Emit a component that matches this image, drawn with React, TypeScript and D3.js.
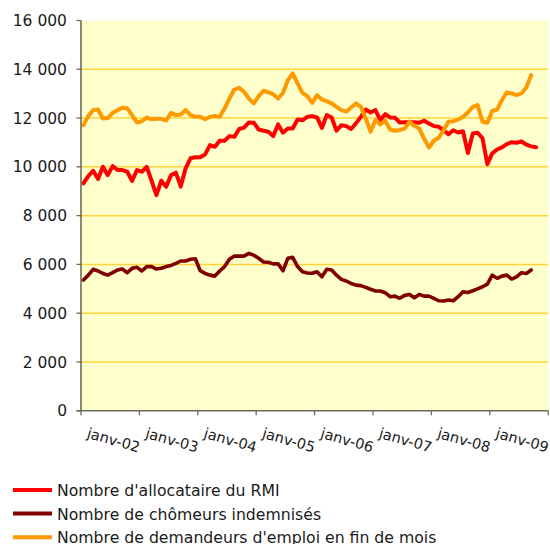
import React from "react";
import * as d3 from "d3";

const monthNames = ["janv", "févr", "mars", "avr", "mai", "juin", "juil", "août", "sept", "oct", "nov", "déc"];
const years = ["02", "03", "04", "05", "06", "07", "08", "09"];
const months: string[] = years.flatMap((y) => monthNames.map((m) => `${m}-${y}`));
const yTicks = [0, 2000, 4000, 6000, 8000, 10000, 12000, 14000, 16000];

const rmi = [
  9320, 9620, 9840, 9500, 10000, 9660, 10030, 9870, 9870, 9800, 9420, 9870,
  9800, 10000, 9430, 8840, 9430, 9190, 9660, 9760, 9190, 9940, 10350, 10390,
  10390, 10510, 10890, 10820, 11070, 11070, 11260, 11230, 11550, 11610, 11820, 11810,
  11530, 11480, 11440, 11260, 11740, 11400, 11570, 11570, 11940, 11910, 12050, 12080,
  12025, 11600, 12120, 12025, 11480, 11710, 11670, 11550, 11780, 12050, 12350, 12230,
  12325, 11915, 12160, 12025, 12010, 11820, 11830, 11830, 11830, 11810, 11890, 11780,
  11670, 11640, 11500, 11340, 11500, 11410, 11460, 10570, 11370, 11400, 11170, 10110,
  10550, 10710, 10800, 10930, 11010, 10990, 11040, 10910, 10840, 10800,
];

const chomeurs = [
  5360, 5560, 5800, 5730, 5630, 5560, 5660, 5770, 5810, 5660, 5840, 5880,
  5730, 5910, 5910, 5810, 5840, 5910, 5960, 6040, 6140, 6140, 6210, 6230,
  5740, 5630, 5560, 5520, 5730, 5910, 6210, 6340, 6340, 6340, 6450, 6380,
  6250, 6100, 6090, 6020, 6020, 5740, 6250, 6290, 5910, 5700, 5650, 5640,
  5700, 5490, 5800, 5770, 5560, 5385, 5320, 5220, 5150, 5130, 5060, 4980,
  4910, 4910, 4840, 4675, 4700, 4610, 4730, 4770, 4630, 4770, 4700, 4700,
  4610, 4510, 4500, 4540, 4510, 4675, 4880, 4850, 4920, 5000, 5085, 5190,
  5560, 5430, 5520, 5560, 5400, 5490, 5660, 5630, 5770,
];

const demandeurs = [
  11710, 12080, 12325, 12350, 11985, 12000, 12215, 12325, 12420, 12400, 12120, 11820,
  11870, 12020, 11950, 11970, 11970, 11900, 12210, 12120, 12150, 12330, 12120, 12050,
  12050, 11950, 12050, 12090, 12050, 12390, 12800, 13170, 13240, 13080, 12800, 12600,
  12900, 13120, 13050, 12980, 12800, 13030, 13550, 13830, 13420, 13030, 12900, 12620,
  12940, 12760, 12690, 12600, 12460, 12325, 12260, 12430, 12600, 12460, 11980, 11440,
  11920, 11740, 11890, 11530, 11480, 11510, 11570, 11850, 11680, 11570, 11160, 10790,
  11070, 11190, 11500, 11850, 11870, 11940, 12050, 12230, 12460, 12530, 11850, 11810,
  12290, 12350, 12740, 13050, 13010, 12940, 13010, 13250, 13760,
];

const series = [
  { name: "Nombre d'allocataire du RMI", values: rmi, color: "#FF0000", width: 4 },
  { name: "Nombre de chômeurs indemnisés", values: chomeurs, color: "#800000", width: 3.6 },
  { name: "Nombre de demandeurs d'emploi en fin de mois", values: demandeurs, color: "#FF9900", width: 4 },
];

const W = 550;
const H = 544;
const left = 81;
const right = 548.2;
const top = 20.5;
const bottom = 410.75;
const font = "'DejaVu Sans', Verdana, sans-serif";

export default function App() {
  const x = d3.scaleBand<string>().domain(months).range([left, right]).padding(0);
  const bw = x.bandwidth();
  const y = d3.scaleLinear().domain([0, 16000]).range([bottom, top]);
  const fmt = (v: number) => d3.format(",")(v).replace(/,/g, " ");

  const line = (vals: number[]) =>
    d3
      .line<number>()
      .x((_, i) => (x(months[i]) as number) + bw / 2)
      .y((v) => y(v))(vals) as string;

  const groupStarts = years.map((_, k) => k * 12);

  return (
    <svg width={W} height={H} style={{ position: "absolute", left: 0, top: 0, background: "#fff" }}>
      <rect x={left} y={top} width={right - left} height={bottom - top} fill="#FFFFCC" />
      {yTicks
        .filter((t) => t > 0 && t < 16000)
        .map((t) => (
          <line key={t} x1={left} x2={right} y1={y(t)} y2={y(t)} stroke="#FFD43B" strokeWidth={1.5} />
        ))}
      {series.map((s) => (
        <path
          key={s.name}
          d={line(s.values)}
          fill="none"
          stroke={s.color}
          strokeWidth={s.width}
          strokeLinejoin="round"
          strokeLinecap="round"
        />
      ))}
      {/* y axis */}
      <line x1={left} x2={left} y1={top} y2={bottom} stroke="#6b6b5a" strokeWidth={1.6} />
      {yTicks.map((t) => (
        <g key={t}>
          <line x1={left - 4.5} x2={left} y1={y(t)} y2={y(t)} stroke="#6b6b5a" strokeWidth={1.3} />
          <text
            x={67}
            y={y(t)}
            dy="0.36em"
            textAnchor="end"
            fontFamily={font}
            fontSize={15.5}
            fill="#1a1a1a"
          >
            {fmt(t)}
          </text>
        </g>
      ))}
      {/* x axis */}
      <line x1={left - 4.5} x2={right} y1={bottom} y2={bottom} stroke="#6b6b5a" strokeWidth={1.6} />
      {[...groupStarts.map((g) => x(months[g]) as number), right].map((px, k) => (
        <line key={k} x1={px} x2={px} y1={bottom} y2={bottom + 4.5} stroke="#6b6b5a" strokeWidth={1.3} />
      ))}
      {groupStarts.map((g, k) => {
        const cx = (x(months[g]) as number) + 6 * bw + 2;
        const cy = 445;
        return (
          <text
            key={k}
            x={cx}
            y={cy}
            textAnchor="middle"
            fontFamily={font}
            fontSize={14.5}
            fill="#1a1a1a"
            transform={`rotate(16 ${cx} ${cy})`}
          >
            {months[g]}
          </text>
        );
      })}
      {/* legend */}
      {series.map((s, i) => {
        const ly = 490 + i * 23.6;
        return (
          <g key={s.name}>
            <line x1={13} x2={52} y1={ly} y2={ly} stroke={s.color} strokeWidth={4} />
            <text x={57} y={ly + 6.2} fontFamily={font} fontSize={15.7} fill="#1a1a1a">
              {s.name}
            </text>
          </g>
        );
      })}
    </svg>
  );
}
